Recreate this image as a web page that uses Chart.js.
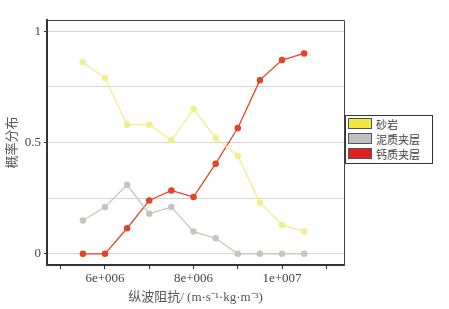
<!DOCTYPE html>
<html>
<head>
<meta charset="utf-8">
<script src="https://cdn.jsdelivr.net/npm/chart.js@4"></script>
<style>
  body { margin: 0; background: #fff; }
  #wrap { position: relative; width: 449px; height: 309px; }
  #legend {
    position: absolute; left: 345px; top: 115px; width: 86px; height: 47px;
    border: 1px solid #333; background: #fff;
    font-family: "Noto Sans CJK SC", sans-serif; font-size: 11px; color: #444;
  }
  .row { display: flex; align-items: center; height: 15px; margin-left: 2px; }
  .sw { width: 22px; height: 9px; border: 1px solid #555; margin-right: 4px; }
</style>
</head>
<body>
<div id="wrap">
  <canvas id="chart" width="449" height="309"></canvas>
  <div id="legend"></div>
</div>
<script>
// impedance values (m·s-1·kg·m-3)
const impedance = [5.5e6, 6e6, 6.5e6, 7e6, 7.5e6, 8e6, 8.5e6, 9e6, 9.5e6, 1e7, 1.05e7]
const sandstone = [0.86, 0.79, 0.58, 0.58, 0.51, 0.65, 0.52, 0.44, 0.23, 0.13, 0.10]
const mudLayer = [0.15, 0.21, 0.31, 0.18, 0.21, 0.10, 0.07, 0, 0, 0, 0]
const calcLayer = [0, 0, 0.115, 0.24, 0.285, 0.255, 0.405, 0.565, 0.78, 0.87, 0.90]
const seriesNames = ["砂岩", "泥质夹层", "钙质夹层"]
const xTicks = [5e6, 6e6, 7e6, 8e6, 9e6, 1e7, 1.1e7]
const xLabels = { 6e6: "6e+006", 8e6: "8e+006", 1e7: "1e+007" }
const yTicks = [0, 0.25, 0.5, 0.75, 1]
const yLabels = { 0: "0", 0.5: "0.5", 1: "1" }

const lineColors = ["#f2ee8c", "#c9c5bd", "#e2452a"]
const legendColors = ["#f0e840", "#c0c0c0", "#e02020"]

function toPoints(vals) {
    return vals.map((v, i) => ({ x: impedance[i], y: v }))
}

const serifFont = "'Liberation Serif', 'DejaVu Serif', serif"
const titleFont = "'Liberation Serif', 'Noto Sans CJK SC', serif"

// frame around plot area (top/right thin lines)
const framePlugin = {
    id: "frame",
    afterDraw(chart) {
        const a = chart.chartArea
        const ctx = chart.ctx
        ctx.save()
        ctx.strokeStyle = "#444"
        ctx.lineWidth = 1
        ctx.beginPath()
        ctx.moveTo(a.left, a.top + 0.5)
        ctx.lineTo(a.right + 0.5, a.top + 0.5)
        ctx.lineTo(a.right + 0.5, a.bottom)
        ctx.stroke()
        ctx.restore()
    }
}

const datasets = [sandstone, mudLayer, calcLayer].map((vals, i) => ({
    label: seriesNames[i],
    data: toPoints(vals),
    borderColor: lineColors[i],
    backgroundColor: lineColors[i],
    borderWidth: 1.3,
    pointRadius: 2.6,
    pointHoverRadius: 2.6,
    tension: 0
}))

new Chart(document.getElementById("chart"), {
    type: "line",
    data: { datasets: datasets },
    options: {
        responsive: false,
        animation: false,
        layout: { padding: { top: 20, right: 105, left: 0, bottom: 0 } },
        plugins: { legend: { display: false }, tooltip: { enabled: false } },
        scales: {
            x: {
                type: "linear",
                min: 4.69e6,
                max: 1.14e7,
                afterBuildTicks: (scale) => { scale.ticks = xTicks.map(v => ({ value: v })) },
                afterFit: (scale) => { scale.height = 44 },
                border: { color: "#333", width: 2 },
                grid: { drawOnChartArea: false, drawTicks: true, tickLength: 4, tickColor: "#333" },
                ticks: {
                    autoSkip: false, maxRotation: 0, padding: 2,
                    color: "#444", font: { family: serifFont, size: 13 },
                    callback: (v) => xLabels[v] || ""
                },
                title: {
                    display: true,
                    text: "纵波阻抗/ (m·s⁻¹·kg·m⁻³)",
                    color: "#555",
                    font: { family: titleFont, size: 13 },
                    padding: { top: 0, bottom: 4 }
                }
            },
            y: {
                min: -0.05,
                max: 1.05,
                afterBuildTicks: (scale) => { scale.ticks = yTicks.map(v => ({ value: v })) },
                afterFit: (scale) => { scale.width = 47 },
                border: { color: "#333", width: 2 },
                grid: {
                    color: "#d4d4d4", lineWidth: 1, tickLength: 3,
                    tickColor: (c) => (yLabels[c.tick.value] !== undefined ? "#333" : "rgba(0,0,0,0)")
                },
                ticks: {
                    autoSkip: false, padding: 3,
                    color: "#444", font: { family: serifFont, size: 13 },
                    callback: (v) => yLabels[v] || ""
                },
                title: {
                    display: true,
                    text: "概率分布",
                    color: "#555",
                    font: { family: titleFont, size: 13 },
                    padding: { top: 5, bottom: 0 }
                }
            }
        }
    },
    plugins: [framePlugin]
})

// legend box
const legend = document.getElementById("legend")
seriesNames.forEach((name, i) => {
    const row = document.createElement("div")
    row.className = "row"
    const sw = document.createElement("span")
    sw.className = "sw"
    sw.style.background = legendColors[i]
    const txt = document.createElement("span")
    txt.textContent = name
    row.appendChild(sw)
    row.appendChild(txt)
    legend.appendChild(row)
})
</script>
</body>
</html>
